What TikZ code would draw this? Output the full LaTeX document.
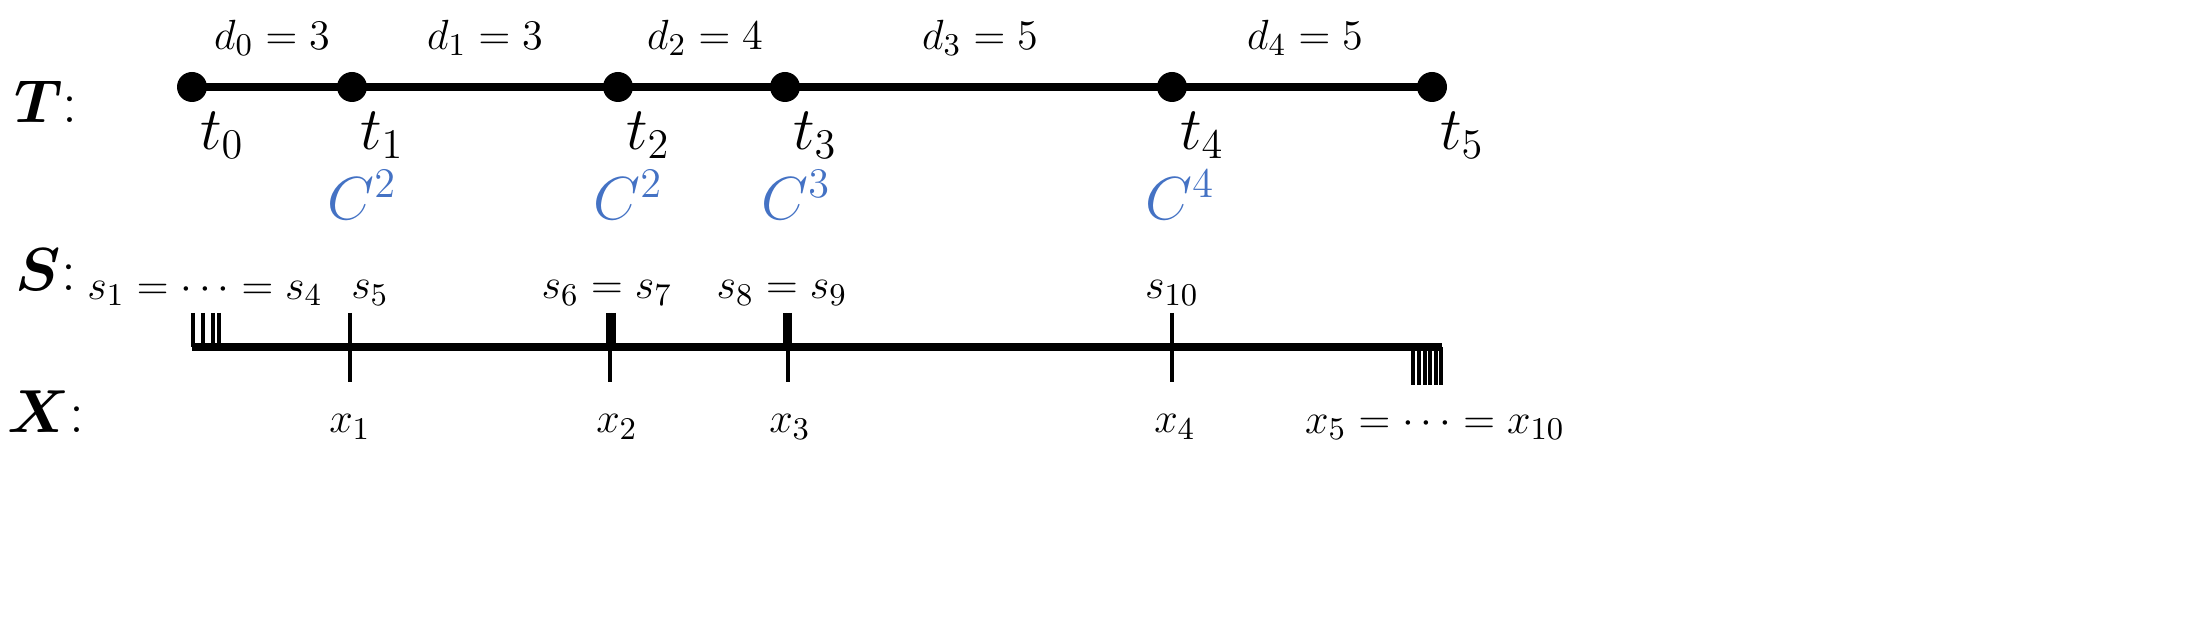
\documentclass[tikz,border=0pt]{standalone}
\usepackage{amsmath,bm}
\begin{document}
\begin{tikzpicture}[x=0.01cm,y=-0.01cm,
  big/.style={font=\fontsize{17}{20}\selectfont},
  med/.style={font=\fontsize{13}{16}\selectfont},
  cl/.style={big,text={rgb,255:red,68;green,114;blue,196}},
  tk/.style={line width=0.9pt}]
\path[use as bounding box] (0,0) rectangle (2190,631);
\node[big] (T) at (46,102) {$\boldsymbol{T}$:};
\node[big] (S) at (46,270) {$\boldsymbol{S}$:};
\node[big] (X) at (46,412) {$\boldsymbol{X}$:};
\foreach \i/\x in {0/192,1/352,2/618,3/785,4/1172,5/1432}{
  \fill (\x,87) circle (15) coordinate (p\i);
  \node[big] at (\x+30,135) {$t_{\i}$};
}
\draw[line width=2.2pt] (p0)--(p5);
\foreach \i/\x/\v in {0/272/3,1/485/3,2/705/4,3/980/5,4/1305/5}{
  \node[med] at (\x,38) {$d_{\i}=\v$};}
\node[cl] at (362,195) {$C^2$};
\node[cl] at (628,195) {$C^2$};
\node[cl] at (796,195) {$C^3$};
\node[cl] at (1180,195) {$C^4$};
\coordinate (a) at (192,347); \coordinate (b) at (1442,347);
\draw[line width=2.2pt] (a)--(b);
\foreach \x in {193,203,213,219,608,614,785,790}{\draw[tk] (\x,313)--(\x,347);}
\foreach \x in {350,610,788,1172}{\draw[tk] (\x,313)--(\x,382);}
\foreach \x in {1413,1419,1425,1430,1436,1441}{\draw[tk] (\x,347)--(\x,385);}
\node[med] at (205,293) {$s_1=\cdots=s_4$};
\node[med] at (370,293) {$s_5$};
\node[med] at (607,293) {$s_6=s_7$};
\node[med] at (782,293) {$s_8=s_9$};
\node[med] at (1172,293) {$s_{10}$};
\foreach \i/\x in {1/350,2/617,3/790,4/1175}{\node[med] at (\x,427) {$x_{\i}$};}
\node[med] at (1435,427) {$x_5=\cdots=x_{10}$};
\end{tikzpicture}
\end{document}
